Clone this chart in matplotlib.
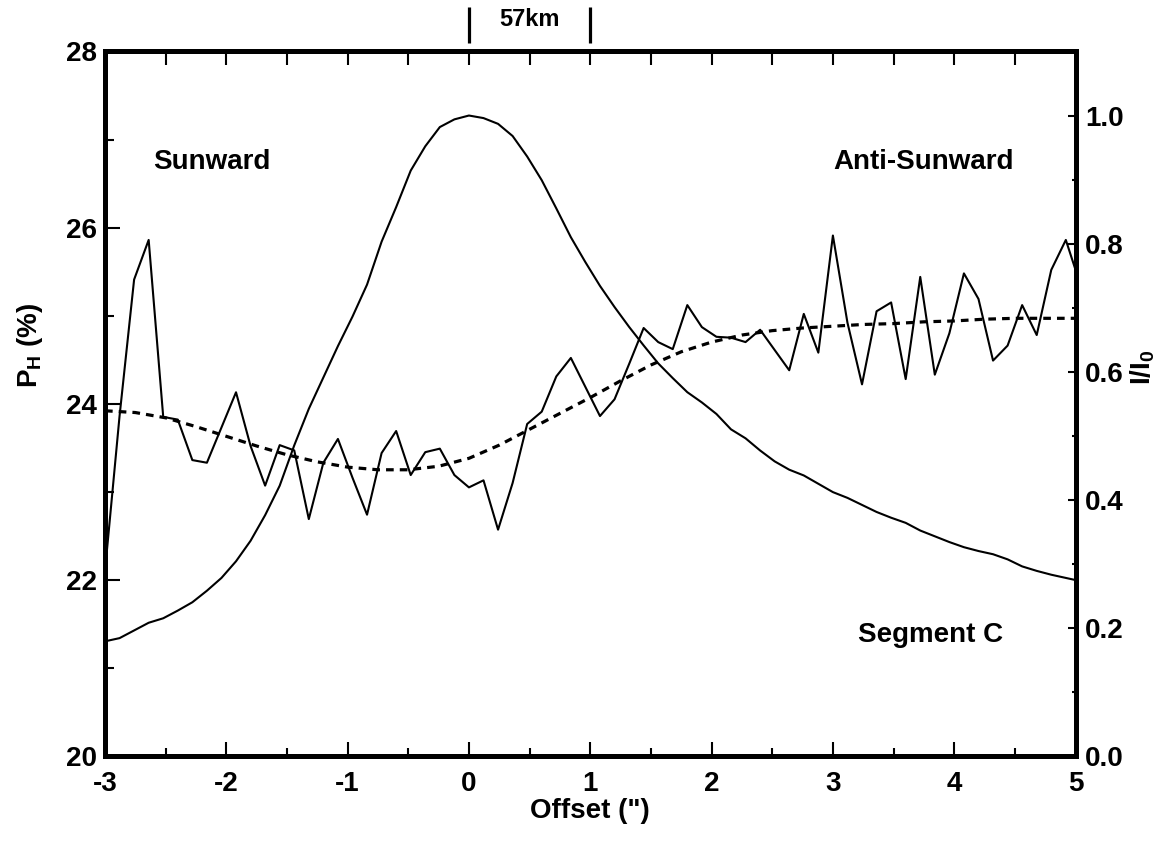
import numpy as np
import matplotlib
matplotlib.use("Agg")
import matplotlib.pyplot as plt
from matplotlib.ticker import MultipleLocator, FixedLocator
import matplotlib.transforms as mtransforms

plt.rcParams['font.family'] = ['Liberation Sans', 'DejaVu Sans']
plt.rcParams['font.weight'] = 'bold'
plt.rcParams['axes.labelweight'] = 'bold'
plt.rcParams['mathtext.default'] = 'regular'

# ---------------- data ----------------
offset = [-3.00, -2.88, -2.76, -2.64, -2.52, -2.40, -2.28, -2.16, -2.04, -1.92,
          -1.80, -1.68, -1.56, -1.44, -1.32, -1.20, -1.08, -0.96, -0.84, -0.72,
          -0.60, -0.48, -0.36, -0.24, -0.12, 0.00, 0.12, 0.24, 0.36, 0.48,
          0.60, 0.72, 0.84, 0.96, 1.08, 1.20, 1.32, 1.44, 1.56, 1.68,
          1.80, 1.92, 2.04, 2.16, 2.28, 2.40, 2.52, 2.64, 2.76, 2.88,
          3.00, 3.12, 3.24, 3.36, 3.48, 3.60, 3.72, 3.84, 3.96, 4.08,
          4.20, 4.32, 4.44, 4.56, 4.68, 4.80, 4.92, 5.04]

pol_h = [22.10, 23.86, 25.41, 25.86, 23.85, 23.82, 23.36, 23.33, 23.73, 24.13,
         23.52, 23.07, 23.53, 23.47, 22.69, 23.33, 23.60, 23.16, 22.74, 23.44,
         23.69, 23.19, 23.45, 23.49, 23.19, 23.05, 23.13, 22.57, 23.10, 23.77,
         23.91, 24.31, 24.52, 24.19, 23.86, 24.05, 24.45, 24.86, 24.70, 24.62,
         25.12, 24.87, 24.76, 24.75, 24.70, 24.84, 24.61, 24.38, 25.02, 24.58,
         25.91, 24.92, 24.22, 25.05, 25.15, 24.28, 25.44, 24.33, 24.80, 25.48,
         25.19, 24.49, 24.66, 25.12, 24.78, 25.52, 25.86, 25.35]

intensity = [0.179, 0.184, 0.196, 0.208, 0.215, 0.227, 0.240, 0.258, 0.278, 0.304,
             0.336, 0.376, 0.422, 0.485, 0.542, 0.591, 0.640, 0.686, 0.736, 0.803,
             0.857, 0.914, 0.952, 0.982, 0.994, 1.000, 0.996, 0.987, 0.968, 0.936,
             0.899, 0.855, 0.810, 0.771, 0.734, 0.701, 0.670, 0.641, 0.613, 0.590,
             0.568, 0.552, 0.534, 0.510, 0.496, 0.477, 0.460, 0.447, 0.438, 0.425,
             0.412, 0.403, 0.392, 0.381, 0.372, 0.364, 0.352, 0.343, 0.334, 0.326,
             0.320, 0.315, 0.307, 0.296, 0.289, 0.283, 0.278, 0.273]

fit_offset = [-3.00, -2.75, -2.50, -2.25, -2.00, -1.75, -1.50, -1.25, -1.00, -0.75,
              -0.50, -0.25, 0.00, 0.25, 0.50, 0.75, 1.00, 1.25, 1.50, 1.75,
              2.00, 2.25, 2.50, 2.75, 3.00, 3.25, 3.50, 3.75, 4.00, 4.25,
              4.50, 4.75, 5.00]
fit_pol = [23.92, 23.90, 23.84, 23.74, 23.63, 23.52, 23.42, 23.34, 23.28, 23.25,
           23.25, 23.29, 23.38, 23.53, 23.71, 23.89, 24.07, 24.26, 24.44, 24.59,
           24.70, 24.78, 24.83, 24.86, 24.88, 24.90, 24.91, 24.93, 24.94, 24.96,
           24.97, 24.97, 24.97]

x_ticks = [-3, -2, -1, 0, 1, 2, 3, 4, 5]
left_ticks = [20, 22, 24, 26, 28]
right_ticks = [0.0, 0.2, 0.4, 0.6, 0.8, 1.0]
right_labels = ['0.0', '0.2', '0.4', '0.6', '0.8', '1.0']

# ---------------- figure ----------------
fig = plt.figure(figsize=(11.64, 8.44), dpi=100)
ax = fig.add_axes([0.0902, 0.1043, 0.8338, 0.8347])

FS = 20
SPW = 3.6

ax.plot(offset, pol_h, color='black', lw=1.5, zorder=3)
ax.plot(fit_offset, fit_pol, color='black', lw=2.3, dashes=(2.4, 1.9), zorder=3)

ax.set_xlim(-3, 5)
ax.set_ylim(20, 28)
ax.set_xticks(x_ticks)
ax.set_xticklabels([str(v) for v in x_ticks])
ax.xaxis.set_minor_locator(MultipleLocator(0.5))
ax.set_yticks(left_ticks)
ax.set_yticklabels([str(v) for v in left_ticks])
ax.yaxis.set_minor_locator(MultipleLocator(1))

ax.tick_params(axis='x', which='major', direction='in', length=10, width=1.5,
               labelsize=FS, pad=10.5, top=False)
ax.tick_params(axis='x', which='minor', direction='in', length=5.8, width=1.5, top=False)
ax.tick_params(axis='y', which='major', direction='in', length=10.8, width=1.5,
               labelsize=FS, pad=6, right=False)
ax.tick_params(axis='y', which='minor', direction='in', length=6.5, width=1.5, right=False)

for s in ax.spines.values():
    s.set_linewidth(SPW)

ax.set_xlabel('Offset (")', fontsize=FS, fontweight='bold', va='center')
ax.xaxis.set_label_coords(0.5, -0.0775)
ax.set_ylabel('P$_\\mathregular{H}$ (%)', fontsize=FS, fontweight='bold', va='center')
ax.yaxis.set_label_coords(-0.077, 0.583)

# top ticks
secax = ax.secondary_xaxis('top')
secax.set_xticks(np.arange(-3, 5.01, 0.5))
secax.set_xticklabels([])
secax.tick_params(direction='in', length=10, width=1.5)
secax.spines['top'].set_linewidth(SPW)

# right axis: intensity
ax2 = ax.twinx()
ax2.plot(offset, intensity, color='black', lw=1.5, zorder=3)
ax2.set_ylim(0, 1.1)
ax2.set_yticks(right_ticks)
ax2.set_yticklabels(right_labels)
ax2.yaxis.set_minor_locator(FixedLocator([0.1, 0.3, 0.5, 0.7, 0.9]))
ax2.tick_params(axis='y', which='major', direction='in', length=5.8, width=1.5,
                labelsize=FS, pad=7)
ax2.tick_params(axis='y', which='minor', direction='in', length=2.9, width=1.5)
for s in ax2.spines.values():
    s.set_linewidth(SPW)
ax2.set_ylabel('I/I$_\\mathregular{0}$', fontsize=FS, fontweight='bold', rotation=90,
               va='center')
ax2.yaxis.set_label_coords(1.0696, 0.551)

# annotations
ax.text(-2.605, 26.74, 'Sunward', fontsize=FS, fontweight='bold', va='center', ha='left')
ax.text(3.0, 26.74, 'Anti-Sunward', fontsize=FS, fontweight='bold', va='center', ha='left')
ax.text(3.21, 21.37, 'Segment C', fontsize=FS, fontweight='bold', va='center', ha='left')

# 57 km scale marker above the frame
trans = mtransforms.blended_transform_factory(ax.transData, ax.transAxes)
for xv in [0, 1]:
    ax.plot([xv, xv], [1.012, 1.063], color='black', lw=2.3, transform=trans,
            clip_on=False, solid_capstyle='butt')
ax.text(0.5, 1.046, '57km', fontsize=17, fontweight='bold', ha='center', va='center',
        transform=trans)

fig.savefig('out.png', dpi=100)
